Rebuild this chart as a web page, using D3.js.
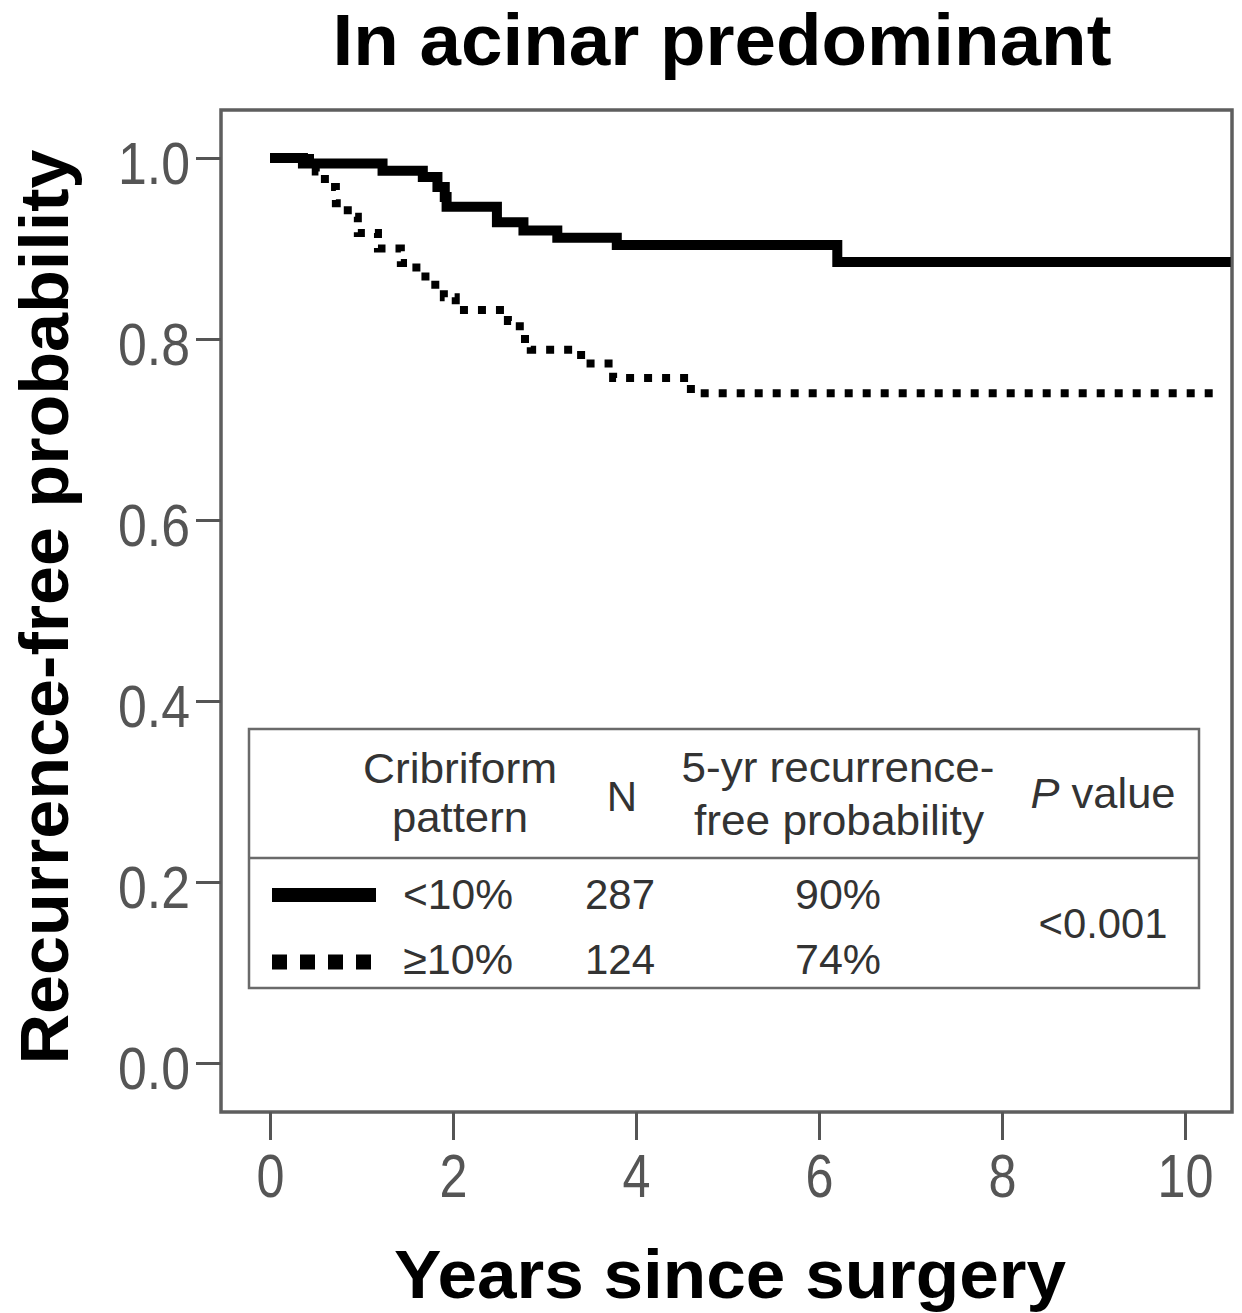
<!DOCTYPE html>
<html>
<head>
<meta charset="utf-8">
<script src="https://cdn.jsdelivr.net/npm/d3@7"></script>
<style>
  body { margin: 0; background: #fff; }
  svg { display: block; font-family: "Liberation Sans", Arial, sans-serif; }
</style>
</head>
<body>
<svg id="chart" width="1242" height="1313"></svg>
<script>
// Kaplan-Meier curves (years, recurrence-free probability)
var lowTimes  = [0, 0.36, 1.23, 1.67, 1.83, 1.91, 1.93, 2.48, 2.77, 3.14, 3.79, 6.2, 10.5];
var lowSurv   = [1.0, 0.994, 0.986, 0.979, 0.968, 0.957, 0.946, 0.929, 0.920, 0.912, 0.904, 0.885, 0.885];
var highTimes = [0, 0.5, 0.6, 0.72, 0.85, 0.96, 1.18, 1.43, 1.6, 1.75, 1.9, 2.03, 2.6, 2.73, 2.85, 3.4, 3.75, 4.6, 10.36];
var highSurv  = [1.0, 0.985, 0.968, 0.95, 0.935, 0.917, 0.90, 0.884, 0.869, 0.86, 0.846, 0.832, 0.82, 0.80, 0.788, 0.773, 0.757, 0.740, 0.740];

var xTicks = [0, 2, 4, 6, 8, 10];
var yTicks = [0, 0.2, 0.4, 0.6, 0.8, 1.0];

// legend table
var groups = ["<10%", "\u226510%"];
var nValues = [287, 124];
var fiveYear = ["90%", "74%"];
var pValue = "<0.001";

var svg = d3.select("#chart");

var frame = { left: 221, right: 1232, top: 110, bottom: 1112 };

var xs = d3.scaleLinear().domain([0, 10]).range([270, 1185]);
var ys = d3.scaleLinear().domain([0, 1]).range([1063, 158]);

// plot frame
svg.append("rect")
    .attr("x", frame.left)
    .attr("y", frame.top)
    .attr("width", frame.right - frame.left)
    .attr("height", frame.bottom - frame.top)
    .attr("fill", "none")
    .attr("stroke", "#5e5e5e")
    .attr("stroke-width", 3.5);

// Y-axis
var y_axis = d3.axisLeft(ys)
    .tickValues(yTicks)
    .tickSizeInner(25)
    .tickSizeOuter(0)
    .tickFormat(d3.format(".1f"));

var gy = svg.append("g")
    .attr("transform", `translate(${frame.left},0)`)
    .call(y_axis);
gy.select(".domain").remove();
gy.selectAll(".tick line").attr("stroke", "#555").attr("stroke-width", 3);
gy.selectAll(".tick text")
    .attr("x", -35)
    .attr("dy", "0.42em")
    .attr("transform", "scale(0.88,1)")
    .attr("fill", "#555")
    .style("font-size", "60px")
    .style("font-family", "Liberation Sans, Arial, sans-serif");

// X-axis
var x_axis = d3.axisBottom(xs)
    .tickValues(xTicks)
    .tickSizeInner(28)
    .tickSizeOuter(0)
    .tickFormat(d3.format("d"));

var gx = svg.append("g")
    .attr("transform", `translate(0,${frame.bottom})`)
    .call(x_axis);
gx.select(".domain").remove();
gx.selectAll(".tick line").attr("stroke", "#555").attr("stroke-width", 3);
gx.selectAll(".tick text")
    .attr("y", 85)
    .attr("dy", null)
    .attr("transform", "scale(0.88,1)")
    .attr("fill", "#555")
    .style("font-size", "61px")
    .style("font-family", "Liberation Sans, Arial, sans-serif");
// scaling shifts the centres, so put them back
gx.selectAll(".tick text").attr("x", 0).attr("transform", null)
    .each(function () {
        d3.select(this).attr("transform", "scale(0.88,1)");
    });
gx.selectAll(".tick").each(function (d) {
    d3.select(this).select("text")
        .attr("transform", null)
        .attr("textLength", String(d).length * 28)
        .attr("lengthAdjust", "spacingAndGlyphs");
});
gy.selectAll(".tick text").attr("transform", null)
    .attr("x", -31)
    .attr("textLength", 72)
    .attr("lengthAdjust", "spacingAndGlyphs");

// curves
var step = d3.line()
    .x(d => xs(d[0]))
    .y(d => ys(d[1]))
    .curve(d3.curveStepAfter);

var lowData = lowTimes.map((t, i) => [t, lowSurv[i]]);
var highData = highTimes.map((t, i) => [t, highSurv[i]]);

svg.append("clipPath").attr("id", "plotclip")
    .append("rect")
    .attr("x", frame.left).attr("y", frame.top)
    .attr("width", frame.right - frame.left - 1)
    .attr("height", frame.bottom - frame.top);

var curves = svg.append("g").attr("clip-path", "url(#plotclip)");

curves.append("path")
    .datum(highData)
    .attr("d", step)
    .attr("fill", "none")
    .attr("stroke", "#000")
    .attr("stroke-width", 8)
    .attr("stroke-dasharray", "8 10");

curves.append("path")
    .datum(lowData)
    .attr("d", step)
    .attr("fill", "none")
    .attr("stroke", "#000")
    .attr("stroke-width", 10);

// legend table
var lg = svg.append("g").attr("fill", "#333").style("font-size", "42px");

lg.append("rect")
    .attr("x", 249).attr("y", 729)
    .attr("width", 950).attr("height", 259)
    .attr("fill", "#fff")
    .attr("stroke", "#6a6a6a")
    .attr("stroke-width", 2.5);

lg.append("line")
    .attr("x1", 249).attr("x2", 1199)
    .attr("y1", 858).attr("y2", 858)
    .attr("stroke", "#6a6a6a")
    .attr("stroke-width", 2.5);

function cell(txt, x, y, anchor, len) {
    var t = lg.append("text")
        .attr("x", x).attr("y", y)
        .attr("text-anchor", anchor)
        .text(txt);
    if (len) t.attr("textLength", len).attr("lengthAdjust", "spacingAndGlyphs");
    return t;
}

cell("Cribriform", 460, 783, "middle", 194);
cell("pattern", 460, 832, "middle", 136);
cell("N", 622, 811, "middle");
cell("5-yr recurrence-", 838, 782, "middle", 313);
cell("free probability", 839, 835, "middle", 290);

var pv = lg.append("text")
    .attr("x", 1103).attr("y", 808)
    .attr("text-anchor", "middle")
    .attr("textLength", 145)
    .attr("lengthAdjust", "spacingAndGlyphs");
pv.append("tspan").style("font-style", "italic").text("P");
pv.append("tspan").text(" value");

var rowY = [909, 974];
groups.forEach(function (g, i) {
    cell(g, 403, rowY[i], "start", 110);
    cell(String(nValues[i]), 620, rowY[i], "middle", 70);
    cell(fiveYear[i], 838, rowY[i], "middle", 86);
});
cell(pValue, 1103, 938, "middle", 129);

// legend samples
lg.append("line")
    .attr("x1", 272).attr("x2", 376)
    .attr("y1", 895).attr("y2", 895)
    .attr("stroke", "#000")
    .attr("stroke-width", 14);

lg.append("line")
    .attr("x1", 272).attr("x2", 376)
    .attr("y1", 962).attr("y2", 962)
    .attr("stroke", "#000")
    .attr("stroke-width", 15)
    .attr("stroke-dasharray", "15 13");

// titles
svg.append("text")
    .attr("x", 722).attr("y", 65)
    .attr("text-anchor", "middle")
    .attr("font-weight", "bold")
    .style("font-size", "72px")
    .attr("textLength", 779)
    .attr("lengthAdjust", "spacingAndGlyphs")
    .text("In acinar predominant");

svg.append("text")
    .attr("x", 730).attr("y", 1298)
    .attr("text-anchor", "middle")
    .attr("font-weight", "bold")
    .style("font-size", "68px")
    .attr("textLength", 672)
    .attr("lengthAdjust", "spacingAndGlyphs")
    .text("Years since surgery");

svg.append("text")
    .attr("transform", "translate(68,607) rotate(-90)")
    .attr("text-anchor", "middle")
    .attr("font-weight", "bold")
    .style("font-size", "68px")
    .attr("textLength", 915)
    .attr("lengthAdjust", "spacingAndGlyphs")
    .text("Recurrence-free probability");
</script>
</body>
</html>
